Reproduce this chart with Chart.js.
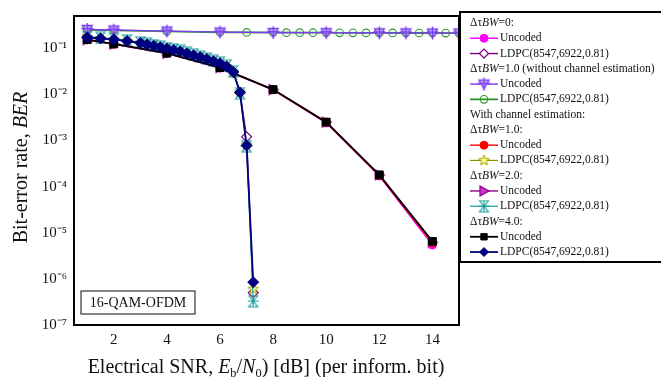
<!DOCTYPE html>
<html><head><meta charset="utf-8">
<script src="https://cdn.jsdelivr.net/npm/chart.js@4/dist/chart.umd.min.js"></script>
<style>html,body{margin:0;padding:0;background:#fff;overflow:hidden}</style>
</head><body>
<canvas id="c" width="661" height="377"></canvas>
<script>
// ---------- data ----------
const snrUncoded = [1, 2, 4, 6, 8, 10, 12, 14];
const berUncTau0   = [0.152, 0.122, 0.077, 0.037, 0.0125, 0.0024, 1.7e-4, 5.4e-6];
const berUncTau1   = [0.153, 0.123, 0.078, 0.038, 0.0126, 0.0025, 1.75e-4, 6.0e-6];
const berUncTau2   = [0.154, 0.123, 0.078, 0.038, 0.0127, 0.0025, 1.8e-4, 6.2e-6];
const berUncTau4   = [0.154, 0.124, 0.078, 0.038, 0.0127, 0.0025, 1.8e-4, 6.5e-6];

const snrCoded = [1, 1.5, 2, 2.5, 3, 3.25, 3.5, 3.75, 4, 4.25, 4.5, 4.75, 5, 5.25, 5.5, 5.75, 6, 6.25, 6.5, 6.75, 7, 7.25];
const berLdpcTau0 = [0.172, 0.163, 0.155, 0.143, 0.130, 0.121, 0.113, 0.105, 0.098, 0.091, 0.085, 0.077, 0.070, 0.064, 0.058, 0.052, 0.047, 0.040, 0.0305, 0.011, 1.2e-3, 5.0e-7];
const berLdpcTau1 = [0.172, 0.163, 0.155, 0.143, 0.130, 0.121, 0.113, 0.105, 0.098, 0.091, 0.085, 0.077, 0.070, 0.064, 0.058, 0.052, 0.047, 0.040, 0.0305, 0.011, 8.0e-4, 6.0e-7];
const berLdpcTau2 = [0.178, 0.168, 0.160, 0.148, 0.134, 0.125, 0.117, 0.109, 0.101, 0.094, 0.088, 0.080, 0.073, 0.066, 0.060, 0.054, 0.049, 0.042, 0.032, 0.0105, 7.5e-4, 3.3e-7];
const berLdpcTau4 = [0.172, 0.163, 0.155, 0.143, 0.130, 0.121, 0.113, 0.105, 0.098, 0.091, 0.085, 0.077, 0.070, 0.064, 0.058, 0.052, 0.047, 0.040, 0.0305, 0.011, 7.8e-4, 8.5e-7];

const snrNoEstUnc = [1, 2, 4, 6, 8, 10, 12, 13, 14, 15];
const berNoEstUnc = [0.255, 0.248, 0.235, 0.224, 0.219, 0.218, 0.216, 0.215, 0.214, 0.213];
const snrNoEstLdpc = [1, 2, 4, 6, 7, 8, 8.5, 9, 9.5, 10, 10.5, 11, 11.5, 12, 12.5, 13, 13.5, 14, 14.5, 15];
const berNoEstLdpc = [0.252, 0.245, 0.232, 0.222, 0.220, 0.219, 0.218, 0.218, 0.217, 0.217, 0.216, 0.216, 0.215, 0.215, 0.215, 0.214, 0.214, 0.214, 0.213, 0.213];

const xTicks = [2, 4, 6, 8, 10, 12, 14];
const yTickValues = [1e-7, 1e-6, 1e-5, 1e-4, 1e-3, 1e-2, 1e-1];
const yTickLabels = ['10\u207B\u2077', '10\u207B\u2076', '10\u207B\u2075', '10\u207B\u2074', '10\u207B\u00B3', '10\u207B\u00B2', '10\u207B\u00B9'];

const seriesNames = ['Uncoded', 'LDPC(8547,6922,0.81)'];
const legendHeaders = ['\u0394\u03C4|BW|=0:', '\u0394\u03C4|BW|=1.0 (without channel estimation)', 'With channel estimation:', '\u0394\u03C4|BW|=1.0:', '\u0394\u03C4|BW|=2.0:', '\u0394\u03C4|BW|=4.0:'];
const insetLabel = '16-QAM-OFDM';

// ---------- custom markers ----------
function marker(size, fn) {
  const c = document.createElement('canvas'); c.width = size; c.height = size;
  const g = c.getContext('2d'); fn(g, size / 2); return c;
}
const triDownPlus = marker(15, (g, c) => {
  g.strokeStyle = '#7a3cf0'; g.fillStyle = 'rgba(205,185,255,0.7)'; g.lineWidth = 1.3;
  g.beginPath(); g.moveTo(c - 5, c - 4); g.lineTo(c + 5, c - 4); g.lineTo(c, c + 5); g.closePath(); g.fill(); g.stroke();
  g.beginPath(); g.moveTo(c, c - 6.5); g.lineTo(c, c + 6.5); g.moveTo(c - 6, c - 1); g.lineTo(c + 6, c - 1); g.stroke();
});
const starOlive = marker(15, (g, c) => {
  g.strokeStyle = '#a0a000'; g.fillStyle = '#ffff90'; g.lineWidth = 1;
  g.beginPath();
  for (let i = 0; i < 10; i++) {
    const r = i % 2 ? 2.4 : 5.6, a = -Math.PI / 2 + i * Math.PI / 5;
    const px = c + r * Math.cos(a), py = c + r * Math.sin(a);
    i ? g.lineTo(px, py) : g.moveTo(px, py);
  }
  g.closePath(); g.fill(); g.stroke();
});
const triRight = marker(14, (g, c) => {
  g.strokeStyle = '#8a008a'; g.fillStyle = '#cc33cc'; g.lineWidth = 1.2;
  g.beginPath(); g.moveTo(c - 4, c - 5); g.lineTo(c + 5, c); g.lineTo(c - 4, c + 5); g.closePath(); g.fill(); g.stroke();
});
const hourX = marker(13, (g, c) => {
  g.strokeStyle = '#1a9c9c'; g.lineWidth = 1.1;
  g.beginPath();
  g.moveTo(c - 4.5, c - 5.5); g.lineTo(c + 4.5, c - 5.5); g.lineTo(c - 4.5, c + 5.5); g.lineTo(c + 4.5, c + 5.5); g.closePath();
  g.moveTo(c, c - 5.5); g.lineTo(c, c + 5.5);
  g.moveTo(c - 5.5, c); g.lineTo(c + 5.5, c);
  g.stroke();
});

function pts(xs, ys) { return xs.map((x, i) => ({ x: x, y: ys[i] })); }

const datasets = [
  { label: seriesNames[0], data: pts(snrUncoded, berUncTau0), borderColor: '#ff00ff', backgroundColor: '#ff00ff', pointStyle: 'circle', pointRadius: 4, borderWidth: 1.4, order: 9 },
  { label: seriesNames[1], data: pts(snrCoded, berLdpcTau0), borderColor: '#800080', backgroundColor: '#ffffff', pointStyle: 'rectRot', pointRadius: 5, pointBorderWidth: 1.2, borderWidth: 1.4, order: 7 },
  { label: seriesNames[0], data: pts(snrNoEstUnc, berNoEstUnc), borderColor: '#7a3cf0', backgroundColor: '#7a3cf0', pointStyle: triDownPlus, borderWidth: 1.4, order: 3 },
  { label: seriesNames[1], data: pts(snrNoEstLdpc, berNoEstLdpc), borderColor: '#2e962e', backgroundColor: 'rgba(0,0,0,0)', pointStyle: 'circle', pointRadius: 3.8, pointBorderWidth: 1.1, borderWidth: 1.8, order: 4 },
  { label: seriesNames[0], data: pts(snrUncoded, berUncTau1), borderColor: '#ff0000', backgroundColor: '#ff0000', pointStyle: 'circle', pointRadius: 4, borderWidth: 1.4, order: 8 },
  { label: seriesNames[1], data: pts(snrCoded, berLdpcTau1), borderColor: '#8c8c00', backgroundColor: '#ffff90', pointStyle: starOlive, borderWidth: 1.2, order: 6 },
  { label: seriesNames[0], data: pts(snrUncoded, berUncTau2), borderColor: '#8a008a', backgroundColor: '#cc33cc', pointStyle: triRight, borderWidth: 1.4, order: 10 },
  { label: seriesNames[1], data: pts(snrCoded, berLdpcTau2), borderColor: '#1a9c9c', backgroundColor: '#1a9c9c', pointStyle: hourX, borderWidth: 1.2, order: 5 },
  { label: seriesNames[0], data: pts(snrUncoded, berUncTau4), borderColor: '#000000', backgroundColor: '#000000', pointStyle: 'rect', pointRadius: 5.5, borderWidth: 1.8, order: 2 },
  { label: seriesNames[1], data: pts(snrCoded, berLdpcTau4), borderColor: '#000080', backgroundColor: '#000080', pointStyle: 'rectRot', pointRadius: 5.5, borderWidth: 1.8, order: 1 }
];
datasets.forEach(d => { d.fill = false; d.tension = 0; d.pointBorderColor = d.borderColor; if (d.pointBorderWidth === undefined) d.pointBorderWidth = 1; d.pointBackgroundColor = d.backgroundColor; });

const legendRows = [['h', 0], ['d', 0], ['d', 1], ['h', 1], ['d', 2], ['d', 3], ['h', 2], ['h', 3], ['d', 4], ['d', 5], ['h', 4], ['d', 6], ['d', 7], ['h', 5], ['d', 8], ['d', 9]];

const SERIF = '"Liberation Serif", "Times New Roman", serif';

function measureParts(ctx, parts, size) {
  let w = 0;
  parts.forEach(p => {
    const fs = p.sub ? size * 0.62 : size;
    ctx.font = (p.it ? 'italic ' : '') + fs + 'px ' + SERIF;
    w += ctx.measureText(p.t).width;
  });
  return w;
}
function renderParts(ctx, parts, size, x, y) {
  parts.forEach(p => {
    const fs = p.sub ? size * 0.62 : size;
    ctx.font = (p.it ? 'italic ' : '') + fs + 'px ' + SERIF;
    ctx.fillText(p.t, x, p.sub ? y + size * 0.22 : y);
    x += ctx.measureText(p.t).width;
  });
}
function headerParts(s) {
  return s.split('|').map((t, i) => ({ t: t, it: i % 2 === 1 }));
}

const LEG_FONT = 11.5;
const decor = {
  id: 'decor',
  afterDraw(chart) {
    const ctx = chart.ctx, a = chart.chartArea;
    ctx.save();
    ctx.strokeStyle = '#000'; ctx.lineWidth = 2;
    ctx.strokeRect(a.left, a.top, a.right - a.left, a.bottom - a.top);
    ctx.lineWidth = 1.2; ctx.strokeStyle = '#333';
    ctx.strokeRect(81, 291, 114, 23);
    ctx.fillStyle = '#111'; ctx.font = '14px ' + SERIF; ctx.textAlign = 'center'; ctx.textBaseline = 'middle';
    ctx.fillText(insetLabel, 138, 303);
    ctx.textAlign = 'left'; ctx.textBaseline = 'alphabetic'; ctx.fillStyle = '#111';
    const xt = [{ t: 'Electrical SNR, ' }, { t: 'E', it: true }, { t: 'b', sub: true }, { t: '/' }, { t: 'N', it: true }, { t: '0', sub: true }, { t: ') [dB] (per inform. bit)' }];
    const xw = measureParts(ctx, xt, 20);
    renderParts(ctx, xt, 20, 266 - xw / 2, 373);
    const yt = [{ t: 'Bit-error rate, ' }, { t: 'BER', it: true }];
    const yw = measureParts(ctx, yt, 20);
    ctx.save(); ctx.translate(27, 167.5); ctx.rotate(-Math.PI / 2);
    renderParts(ctx, yt, 20, -yw / 2, 0);
    ctx.restore();
    ctx.strokeStyle = '#000'; ctx.lineWidth = 2;
    ctx.beginPath(); ctx.moveTo(665, 12); ctx.lineTo(460, 12); ctx.lineTo(460, 262); ctx.lineTo(665, 262); ctx.stroke();
    ctx.textBaseline = 'middle';
    legendRows.forEach((r, i) => {
      const y = 23 + i * 15.27;
      ctx.fillStyle = '#111';
      if (r[0] === 'h') {
        renderParts(ctx, headerParts(legendHeaders[r[1]]), LEG_FONT, 470, y);
      } else {
        const d = chart.data.datasets[r[1]];
        ctx.strokeStyle = d.borderColor; ctx.lineWidth = d.borderWidth;
        ctx.beginPath(); ctx.moveTo(470, y); ctx.lineTo(498, y); ctx.stroke();
        ctx.fillStyle = d.backgroundColor; ctx.strokeStyle = d.borderColor; ctx.lineWidth = d.pointBorderWidth;
        Chart.helpers.drawPoint(ctx, { pointStyle: d.pointStyle, radius: Math.min(d.pointRadius || 4, 4.5), rotation: 0, borderWidth: d.pointBorderWidth }, 484, y);
        ctx.fillStyle = '#111'; ctx.font = LEG_FONT + 'px ' + SERIF;
        ctx.fillText(d.label, 500, y);
      }
    });
    ctx.restore();
  }
};

new Chart(document.getElementById('c'), {
  type: 'line',
  data: { datasets: datasets },
  options: {
    responsive: false, animation: false, devicePixelRatio: 1,
    layout: { padding: { left: 0, right: 202, top: 12, bottom: 0 } },
    plugins: { legend: { display: false }, tooltip: { enabled: false } },
    scales: {
      x: {
        type: 'linear', min: 0.5, max: 15,
        grid: { display: false, drawTicks: false }, border: { display: false },
        afterBuildTicks: s => { s.ticks = xTicks.map(v => ({ value: v })); },
        afterFit: s => { s.height = 52; },
        ticks: { padding: 6, color: '#111', font: { family: SERIF, size: 15 }, callback: v => String(v) }
      },
      y: {
        type: 'logarithmic', min: 1e-7, max: 0.5,
        grid: { display: false, drawTicks: false }, border: { display: false },
        afterBuildTicks: s => { s.ticks = yTickValues.map(v => ({ value: v })); },
        afterFit: s => { s.width = 74; },
        ticks: { padding: 7, color: '#111', font: { family: SERIF, size: 15 }, callback: (v) => { const i = yTickValues.findIndex(t => Math.abs(Math.log10(t) - Math.log10(v)) < 1e-6); return i >= 0 ? yTickLabels[i] : ''; } }
      }
    }
  },
  plugins: [decor]
});
</script>
</body></html>
